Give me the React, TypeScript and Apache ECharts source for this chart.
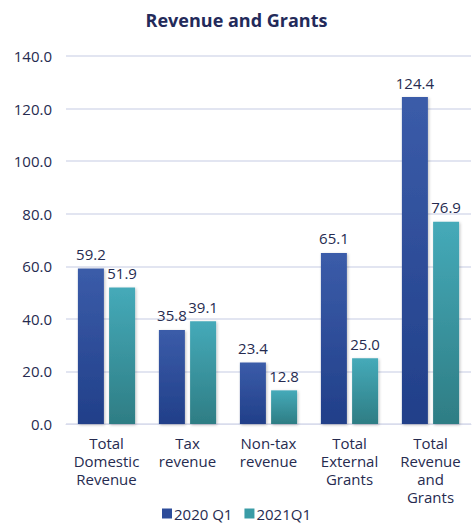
import React, { useEffect, useRef } from "react";
import * as echarts from "echarts";

const categories = ["Total\nDomestic\nRevenue", "Tax\nrevenue", "Non-tax\nrevenue", "Total\nExternal\nGrants", "Total\nRevenue\nand\nGrants"];
const series2020 = [59.2, 35.8, 23.4, 65.1, 124.4];
const series2021 = [51.9, 39.1, 12.8, 25.0, 76.9];
const seriesNames = ["2020 Q1", "2021Q1"];

const TEXT = "#262b50";
const FONT = "'Open Sans', 'Noto Sans', sans-serif";

export default function App() {
  const ref = useRef<HTMLDivElement>(null);
  useEffect(() => {
    const chart = echarts.init(ref.current!, null, { renderer: "svg" });
    const grad = (top: string, bottom: string) =>
      new echarts.graphic.LinearGradient(0, 0, 0, 1, [
        { offset: 0, color: top },
        { offset: 1, color: bottom },
      ]);
    const blue = grad("#3b5ca9", "#213f89");
    const teal = grad("#45aab9", "#2e7d84");
    const labelCfg = {
      show: true,
      position: "top",
      distance: 7,
      fontSize: 15,
      color: TEXT,
      fontFamily: FONT,
      formatter: (p: any) => Number(p.value).toFixed(1),
    };
    chart.setOption({
      animation: false,
      textStyle: { fontFamily: FONT, color: TEXT },
      title: {
        text: "Revenue and Grants",
        left: "center",
        top: 6,
        textStyle: { fontSize: 18, fontWeight: "bold", color: "#232a5a", fontFamily: FONT },
      },
      legend: {
        bottom: 2,
        left: "center",
        itemWidth: 10,
        itemHeight: 10,
        itemGap: 12,
        icon: "rect",
        textStyle: { fontSize: 15, color: TEXT, fontFamily: FONT, padding: [0, 0, 0, -3] },
        data: [
          { name: seriesNames[0], itemStyle: { color: "#2d4c9a" } },
          { name: seriesNames[1], itemStyle: { color: "#3a9ca6" } },
        ],
      },
      grid: { left: 66, right: 2, top: 56, bottom: 104, containLabel: false },
      xAxis: {
        type: "category",
        data: categories,
        axisLine: { show: true, lineStyle: { color: "#d9dcec", width: 1 } },
        axisTick: { show: false },
        axisLabel: { fontSize: 15, color: TEXT, lineHeight: 18, margin: 10, interval: 0, fontFamily: FONT },
      },
      yAxis: {
        type: "value",
        min: 0,
        max: 140,
        interval: 20,
        axisLine: { show: false },
        axisTick: { show: false },
        splitLine: { lineStyle: { color: "#d9dcec", width: 1.5 } },
        axisLabel: {
          fontSize: 15,
          color: TEXT,
          margin: 14,
          fontFamily: FONT,
          formatter: (v: number) => v.toFixed(1),
        },
      },
      series: [
        {
          name: seriesNames[0],
          type: "bar",
          data: series2020,
          barWidth: 26,
          barGap: "20%",
          itemStyle: { color: blue, shadowColor: "rgba(0,0,0,0.25)", shadowBlur: 3, shadowOffsetX: 1, shadowOffsetY: 1 },
          label: labelCfg,
        },
        {
          name: seriesNames[1],
          type: "bar",
          data: series2021,
          barWidth: 26,
          itemStyle: { color: teal, shadowColor: "rgba(0,0,0,0.25)", shadowBlur: 3, shadowOffsetX: 1, shadowOffsetY: 1 },
          label: labelCfg,
        },
      ],
    });
    return () => chart.dispose();
  }, []);
  return <div ref={ref} style={{ width: 473, height: 528, position: "absolute", left: 0, top: 0 }} />;
}
